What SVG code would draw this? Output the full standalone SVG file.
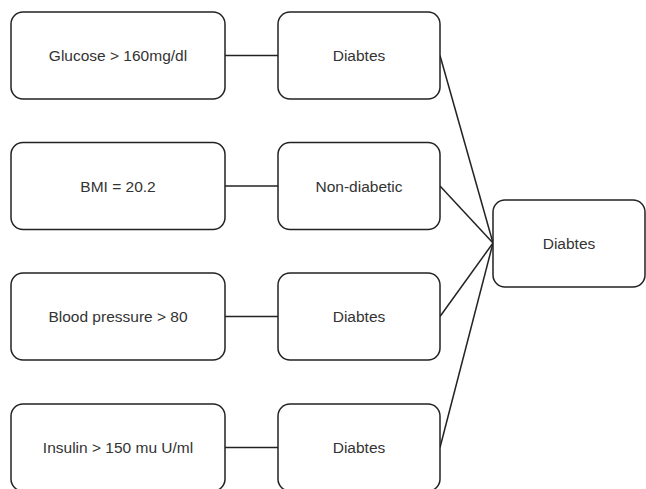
<svg xmlns="http://www.w3.org/2000/svg" width="646" height="489" viewBox="0 0 646 489">
<style>
.box{fill:#fff;stroke:#222;stroke-width:1.5}
.t{font-family:"Liberation Sans",Arial,sans-serif;font-size:15.5px;fill:#333;text-anchor:middle}
.c{stroke:#222;stroke-width:1.5;fill:none}
</style>
<rect width="646" height="489" fill="#fff"/>
<g id="connectors">
<line class="c" x1="225" y1="55.5" x2="278" y2="55.5"/>
<line class="c" x1="225" y1="186" x2="278" y2="186"/>
<line class="c" x1="225" y1="316.5" x2="278" y2="316.5"/>
<line class="c" x1="225" y1="447.5" x2="278" y2="447.5"/>
<line class="c" x1="440" y1="55.5" x2="493" y2="243"/>
<line class="c" x1="440" y1="186" x2="493" y2="243"/>
<line class="c" x1="440" y1="316.5" x2="493" y2="243"/>
<line class="c" x1="440" y1="447.5" x2="493" y2="243"/>
</g>
<g id="glucose"><rect class="box" x="11" y="12" width="214" height="87" rx="12"/><text class="t" x="118" y="61">Glucose &gt; 160mg/dl</text></g>
<g id="bmi"><rect class="box" x="11" y="142.5" width="214" height="87" rx="12"/><text class="t" x="118" y="191.5">BMI = 20.2</text></g>
<g id="bp"><rect class="box" x="11" y="273" width="214" height="87" rx="12"/><text class="t" x="118" y="322">Blood pressure &gt; 80</text></g>
<g id="insulin"><rect class="box" x="11" y="404" width="214" height="87" rx="12"/><text class="t" x="118" y="453">Insulin &gt; 150 mu U/ml</text></g>
<g id="r1"><rect class="box" x="278" y="12" width="162" height="87" rx="12"/><text class="t" x="359" y="61">Diabtes</text></g>
<g id="r2"><rect class="box" x="278" y="142.5" width="162" height="87" rx="12"/><text class="t" x="359" y="191.5">Non-diabetic</text></g>
<g id="r3"><rect class="box" x="278" y="273" width="162" height="87" rx="12"/><text class="t" x="359" y="322">Diabtes</text></g>
<g id="r4"><rect class="box" x="278" y="404" width="162" height="87" rx="12"/><text class="t" x="359" y="453">Diabtes</text></g>
<g id="result"><rect class="box" x="493" y="200" width="152" height="87" rx="12"/><text class="t" x="569" y="249">Diabtes</text></g>
</svg>
